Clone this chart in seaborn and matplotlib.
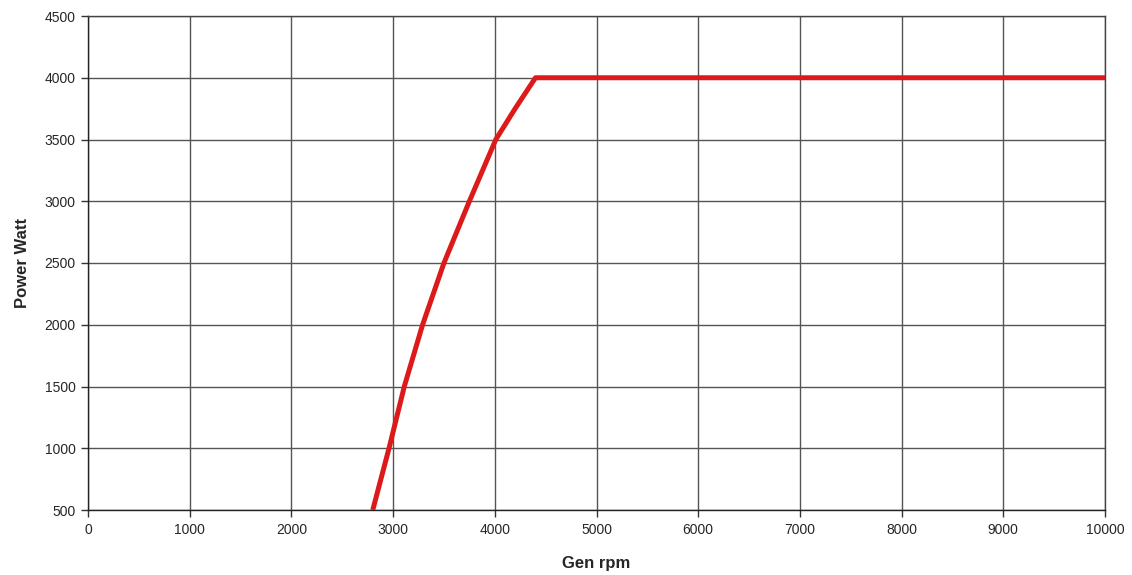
import pandas as pd
import matplotlib
matplotlib.use("Agg")
import matplotlib.pyplot as plt
import seaborn as sns

# values
rpm = [2800, 2960, 3110, 3290, 3500, 3750, 4010, 4200, 4400, 10000]
power = [500, 1000, 1500, 2000, 2500, 3000, 3500, 3750, 4000, 4000]
x_ticks = list(range(0, 10001, 1000))
y_ticks = list(range(500, 4501, 500))

df = pd.DataFrame({"Gen rpm": rpm, "Power Watt": power})

sns.set_style("white")
plt.rcParams["font.family"] = ["Liberation Sans", "DejaVu Sans"]

fig = plt.figure(figsize=(11.32, 5.75), dpi=100)
ax = fig.add_axes([88 / 1132, 65 / 575, (1105 - 88) / 1132, (510 - 16) / 575])

sns.lineplot(x="Gen rpm", y="Power Watt", data=df, color="#dd1a1a", linewidth=3.6,
             sort=False, ax=ax, solid_capstyle="butt", zorder=3)

ax.set_xlim(0, 10000)
ax.set_ylim(500, 4500)
ax.set_xticks(x_ticks)
ax.set_yticks(y_ticks)
ax.grid(True, color="#555555", linewidth=1.0)
for s in ax.spines.values():
    s.set_color("#444444")
    s.set_linewidth(1.0)
ax.spines["left"].set_color("#222222")
ax.spines["bottom"].set_color("#222222")
ax.tick_params(axis="both", direction="out", length=5, width=1, color="#333333",
               labelsize=10, pad=4, left=True, bottom=True)
ax.set_xlabel("Gen rpm", fontsize=12, fontweight="bold", labelpad=14)
ax.set_ylabel("Power Watt", fontsize=12, fontweight="bold", labelpad=10)

fig.savefig("out.png", dpi=100)
